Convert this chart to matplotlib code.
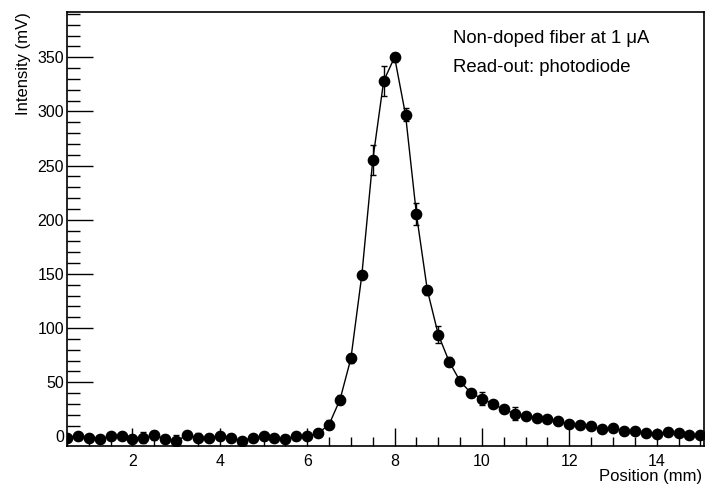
import numpy as np
import matplotlib.pyplot as plt
from matplotlib.ticker import MultipleLocator

plt.rcParams['font.family'] = ['Liberation Sans', 'DejaVu Sans']

# Datos (posición en mm, intensidad en mV)
posicion = np.arange(0.5, 15.01, 0.25)
intensidad = [-1, 0, -1, -2, 0, 0, -2, -1, 1, -2,
              -4, 1, -1, -1, 0, -1, -4, -1, 0, -1,
              -2, 0, 0, 3, 11, 34, 72, 149, 255, 328,
              350, 297, 205, 135, 94, 69, 51, 40, 35, 30,
              25, 21, 19, 17, 16, 14, 11.5, 11, 9.5, 7,
              7.5, 5.4, 5, 3.5, 2.3, 4.4, 3, 1.4, 1.4]
errores = [2, 3, 2, 2, 3, 2, 3, 5, 4, 3,
           5, 3, 4, 3, 3, 3, 3, 2, 3, 2,
           3, 3, 2, 3, 4, 4, 4, 3, 14, 14,
           4, 6, 10, 4, 8, 4, 3, 4, 6, 3,
           3, 6, 3, 3, 3, 3, 3, 3, 3, 2,
           2, 2, 2, 2, 2, 3, 2, 2, 2]

fig = plt.figure(figsize=(7.05, 4.84), dpi=100)
ax = fig.add_axes([0.095, 0.0785, 0.904, 0.8965])

ax.plot(posicion, intensidad, color='black', lw=1.0, zorder=2)
ax.errorbar(posicion, intensidad, yerr=errores, fmt='o', color='black',
            ms=7.4, elinewidth=1.0, capsize=2, capthick=1.0, zorder=3)

ax.set_xlim(0.5, 15.09)
ax.set_ylim(-8.8, 391.6)

ax.xaxis.set_major_locator(MultipleLocator(2))
ax.xaxis.set_minor_locator(MultipleLocator(0.5))
ax.yaxis.set_major_locator(MultipleLocator(50))
ax.yaxis.set_minor_locator(MultipleLocator(10))

ax.tick_params(axis='x', which='major', direction='in', length=13, width=1, labelsize=11.5, pad=6)
ax.tick_params(axis='x', which='minor', direction='in', length=6.5, width=1)
ax.tick_params(axis='y', which='major', direction='in', length=19, width=1, labelsize=11.5, pad=2)
ax.tick_params(axis='y', which='minor', direction='in', length=9.5, width=1)
for s in ax.spines.values():
    s.set_linewidth(1.2)

ax.set_xlabel('Position (mm)', fontsize=12, ha='right', x=0.996, labelpad=0)
ax.set_ylabel('Intensity (mV)', fontsize=12, ha='right', y=1.0, labelpad=5)

ax.text(0.605, 0.94, 'Non-doped fiber at 1 \u03bcA', transform=ax.transAxes,
        fontsize=13.3, va='center')
ax.text(0.605, 0.873, 'Read-out: photodiode', transform=ax.transAxes,
        fontsize=13.3, va='center')

fig.savefig('out.png', dpi=100)
